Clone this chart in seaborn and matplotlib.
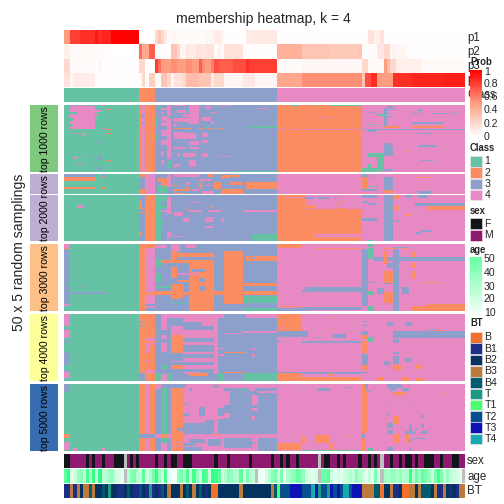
import matplotlib
matplotlib.use('Agg')
import matplotlib.pyplot as plt
from matplotlib.colors import ListedColormap, LinearSegmentedColormap
from matplotlib.patches import Rectangle
import numpy as np
import seaborn as sns

W, H = 504, 504
LEFT, RIGHT = 64, 465

class_colors = ['#66C2A5', '#FC8D62', '#8DA0CB', '#E78AC3']
strip_colors = ['#7FC97F', '#BEAED4', '#FDC086', '#FFFF99', '#386CB0']
sex_colors = {'F': '#111618', 'M': '#8E1A6F', 'N': '#BEBEBE'}
bt_colors = {'B': '#F1702A', 'B1': '#1B2F87', 'B2': '#04335F', 'B3': '#BC7A3D', 'B4': '#005A70',
             'T': '#1B9B85', 'T1': '#4BFF71', 'T2': '#04508F', 'T3': '#0C12B4', 'T4': '#15AAAE'}

# membership probabilities, one value per sample
p1 = [.5, .5, .8, .8, .8, .85, .85, .85, .85, .85, .92, .85, .88, .88, .88] + [1.0] * 9 + [0] * 5 + \
     [.2, .3, .2, .1, .03, .05, .05, .02, .02, .02, .02, .02, .02, .02, .02, .02, .04, .04, .04, .1, .1, .05,
      .01, .01, .01, .01, .01, .01, .01, .1, .1, .1, .12, .12, .12, .12, .12, .12, .12] + \
     [.01] * 29 + [.15, .15, .08, .08, .15] + [.01] * 26
p2 = [.08, .08, .03, .03, .03, .03, .03, .03, .03, .03, .02, .02, .02, .02, .02] + [0] * 9 + \
     [.65, .45, .45, .7, .7] + \
     [.01, .01, .01, .01, .01, .3, .3, .2, .06, .06, .12, .1, .1, .15, .15, .12, .15, .15, .15, .02, .08, .02,
      .15, .15, .15, .15, .15, .15, .02, .01, .01, .01, .01, .01, .01, .01, .01, .01, .01] + \
     [.4] * 8 + [.3] * 9 + [.28] * 9 + [.3] + [.02] * 5 + [.12, .12, .2, .2, .05, .07, .05, .05, .06, .03] + [.01] * 18
p3 = [.2, .2, .02, .02, .02, .02, .02, .02, .02, .02, .02, .05] + [.01] * 12 + [.2, .2, 0, 0, 0] + \
     [.8, .65, .5, .5, .5, .55, .55, .5, .5, .5, .55, .55, .5, .5, .7, .55, .5, .5, .6, .75, .72, .7, .7, .7, .7,
      .75, .75, .75, .75, .85, .8, .8, .8, .8, .8, .8, .8, .8, .8] + \
     [.02] * 8 + [.04] * 19 + [.2, .2, .03, .03, .03, .03, .03, .5, .35, .2, .2] + [.08] * 8 + [.03] * 14
p4 = [.15, .15, .05, .1, .1, .1, .1, .1, .1, .1] + [.01] * 14 + [.02, .2, .02, .25, .25] + \
     [.02, .02, .3, .3, .2, .05, .15, .15, .15, .2, .35, .35, .35, .35, .3, .3, .3, .3, .1, .2, .2, .2,
      .05, .05, .05, .05, .05, .05, .12, .12, .12, .12, .04, .04, .04, .04, .04, .04, .04] + \
     [.45] * 8 + [.55] * 19 + [.3, .75, .75, .85, .85, .5, .5, .5, .5, .5] + [.85] * 6 + [.88] * 10 + [.9] * 7

# sample annotations as (count, value) runs
sex_runs = [(2, 'F'), (5, 'M'), (1, 'F'), (1, 'M'), (1, 'F'), (2, 'M'), (1, 'F'), (3, 'M'), (3, 'F'), (1, 'N'),
            (1, 'M'), (1, 'F'), (1, 'M'), (1, 'F'), (5, 'M'), (1, 'F'), (2, 'M'), (1, 'F'), (1, 'M'), (2, 'F'),
            (2, 'M'), (3, 'F'), (7, 'M'), (1, 'F'), (3, 'M'), (1, 'F'), (6, 'M'), (1, 'F'),
            (6, 'M'), (1, 'F'), (2, 'M'), (1, 'F'), (1, 'M'), (1, 'F'), (2, 'M'), (1, 'F'), (6, 'M'), (1, 'N'),
            (1, 'M'), (2, 'F'), (2, 'M'), (1, 'F'), (1, 'M'), (1, 'F'), (4, 'M'), (1, 'F'), (2, 'M'), (1, 'F'),
            (1, 'M'), (1, 'F'), (1, 'M'), (1, 'N'), (2, 'M'), (1, 'F'), (2, 'M'), (1, 'F'), (1, 'M'), (2, 'F'),
            (1, 'M'), (1, 'F'), (2, 'M'), (3, 'F'), (2, 'M'), (1, 'F'), (3, 'M'), (2, 'F'), (2, 'M')]
age = [40, 48, 15, 20, 30, 32, 22, 45, 25, 48, 20, 50, 22, 25, 28, 30, 20, 18, 15, np.nan,
       25, 32, 35, 25, 20, 42, 20, 25, 35, 48, 30, 20, 45, 15, 12, 12, 32, 35, 25, 45,
       20, 45, 30, 20, 45, 42, 20, 48, 46, 40, 20, 25, 32, 30, 25, 25, 40, 20, 35, 25,
       22, np.nan, 15, 12, 18, 25, 32, 35, 20, 35, 15, 25, 30, 32, 38, 35, 30, 20, 18, 15,
       20, np.nan, 38, 38, 40, 20, 15, 18, 15, 20, 22, 25, 22, 32, 25, 20, 15, 22, 15, 35,
       20, np.nan, 28, 25, 30, 30, 25, 30, 25, 25, 48, 25, 38, 28, 40, 35, 30, 20, 35, 45,
       35, 20, 30, 22, 20, 18, 15, np.nan]
bt_runs = [(2, 'B1'), (1, 'B3'), (1, 'B1'), (1, 'B3'), (1, 'B2'), (2, 'B3'), (1, 'B4'), (1, 'B3'), (2, 'B2'),
           (1, 'B4'), (1, 'B2'), (1, 'T'), (2, 'B2'), (2, 'B1'), (1, 'B2'), (1, 'B4'), (1, 'B2'), (2, 'B1'),
           (1, 'T2'), (1, 'B2'), (1, 'B1'), (1, 'T'), (1, 'B1'), (1, 'B2'), (1, 'B1'), (1, 'B4'), (1, 'B2'),
           (1, 'B3'), (3, 'B2'), (1, 'B3'), (1, 'B2'), (1, 'B4'), (1, 'B2'), (1, 'B3'), (1, 'B2'), (1, 'B4'),
           (1, 'B2'), (1, 'B1'), (1, 'B2'), (2, 'B'), (7, 'B2'), (1, 'B3'), (3, 'B2'),
           (6, 'B2'), (1, 'B3'), (1, 'B4'), (1, 'T1'), (3, 'T2'), (4, 'T3'), (3, 'T2'), (1, 'T4'), (1, 'T3'),
           (1, 'T'), (2, 'T2'), (1, 'T'), (1, 'T3'), (1, 'T2'), (1, 'T3'), (1, 'T2'), (2, 'T4'), (1, 'T2'),
           (3, 'T3'), (4, 'B3'), (2, 'B4'), (1, 'B'), (2, 'B2'), (1, 'B3'), (2, 'B1'), (1, 'B2'), (2, 'B'),
           (2, 'B3'), (1, 'B2'), (1, 'B3'), (3, 'B4'), (1, 'B2'), (1, 'B3'), (2, 'B1'), (1, 'B3'), (1, 'B2'),
           (1, 'B1'), (1, 'B2'), (1, 'B1'), (2, 'B3')]

class_runs = [(24, 1), (5, 2), (39, 3), (60, 4)]

# predicted class per column for every block, runs first, then (row, row_end, col, col_end, class)
block1_base = [(24, 1), (1, 2), (1, 4), (3, 2), (39, 3), (27, 2), (33, 4)]
block1_patch = [(1, 18, 2, 10, 4), (5, 7, 2, 4, 1), (10, 12, 2, 3, 1), (14, 16, 2, 3, 1), (0, 1, 2, 9, 3),
                (3, 4, 10, 12, 3), (4, 5, 10, 12, 4), (7, 8, 10, 11, 4), (6, 7, 10, 11, 4), (0, 1, 12, 13, 4),
                (3, 4, 13, 15, 2), (18, 19, 13, 15, 2), (17, 18, 12, 13, 4), (21, 22, 13, 15, 2), (21, 22, 3, 4, 4),
                (21, 22, 5, 6, 4), (22, 23, 6, 7, 4), (28, 29, 11, 12, 3), (26, 27, 11, 12, 3), (38, 41, 11, 12, 3),
                (41, 42, 13, 15, 2), (46, 49, 11, 12, 3), (44, 45, 4, 6, 4), (39, 40, 3, 4, 4), (38, 39, 6, 7, 4),
                (7, 8, 25, 26, 3), (9, 10, 25, 26, 3), (13, 14, 25, 26, 3), (18, 19, 24, 26, 4), (17, 18, 25, 29, 2),
                (0, 40, 33, 34, 4), (8, 10, 33, 34, 1), (2, 4, 31, 33, 4), (5, 7, 31, 32, 4), (8, 12, 31, 33, 4),
                (1, 3, 30, 31, 1), (9, 16, 29, 30, 1), (22, 26, 29, 30, 1), (13, 16, 31, 33, 4), (19, 23, 31, 33, 4),
                (26, 30, 31, 33, 4), (34, 38, 31, 32, 4), (41, 45, 31, 32, 4),
                (0, 1, 35, 39, 4), (1, 14, 40, 43, 4), (0, 2, 40, 43, 4), (1, 3, 45, 47, 4), (0, 1, 50, 53, 4),
                (4, 6, 36, 39, 4), (7, 9, 38, 42, 4), (10, 13, 35, 40, 4), (5, 6, 47, 49, 4), (9, 12, 44, 47, 4),
                (12, 14, 47, 48, 4), (2, 3, 62, 65, 4), (14, 16, 35, 36, 4),
                (17, 18, 35, 37, 2), (17, 18, 37, 41, 2), (17, 18, 43, 45, 2), (17, 18, 46, 48, 2), (17, 18, 49, 51, 2),
                (16, 17, 57, 58, 1), (16, 17, 60, 68, 1), (16, 17, 45, 46, 1),
                (20, 22, 35, 39, 4), (21, 25, 35, 42, 4), (21, 24, 44, 46, 4), (31, 33, 35, 39, 4), (31, 33, 40, 43, 4),
                (36, 39, 36, 37, 4), (36, 39, 38, 42, 4), (36, 39, 44, 46, 4), (44, 46, 35, 37, 4), (41, 46, 40, 42, 4),
                (27, 30, 40, 43, 4), (38, 39, 48, 49, 4), (38, 39, 50, 53, 4), (26, 28, 44, 46, 4), (42, 47, 33, 34, 1),
                (49, 50, 31, 33, 1), (49, 50, 53, 68, 1),
                (0, 1, 72, 75, 1), (0, 1, 80, 81, 1), (0, 1, 85, 95, 1), (18, 19, 68, 71, 4), (18, 19, 72, 75, 4),
                (18, 19, 76, 80, 4), (18, 19, 81, 84, 4), (18, 19, 85, 95, 4), (9, 10, 81, 85, 4), (9, 10, 86, 87, 4),
                (2, 16, 102, 103, 3), (1, 2, 103, 105, 3), (3, 4, 103, 106, 3), (6, 7, 103, 104, 3), (8, 9, 103, 105, 3),
                (7, 8, 100, 103, 1), (14, 15, 97, 98, 1), (14, 15, 99, 100, 1), (5, 6, 97, 98, 3), (5, 6, 99, 100, 3),
                (16, 17, 102, 107, 2), (16, 17, 111, 121, 2), (18, 19, 95, 128, 3), (13, 14, 111, 121, 3), (3, 5, 113, 114, 3),
                (6, 7, 111, 114, 3), (6, 7, 117, 123, 3), (6, 7, 124, 126, 3), (21, 22, 113, 117, 3), (30, 31, 113, 119, 3),
                (36, 39, 97, 100, 1), (36, 49, 100, 102, 1), (44, 49, 97, 98, 1), (47, 50, 95, 100, 1), (28, 30, 102, 104, 3),
                (30, 38, 102, 105, 3), (34, 35, 109, 111, 2), (19, 20, 97, 100, 3), (41, 42, 114, 118, 3), (48, 49, 102, 105, 3)]

block2_base = [(24, 1), (2, 3), (3, 2), (39, 3), (27, 4), (33, 4)]
block2_patch = [(0, 2, 0, 10, 3), (2, 5, 0, 10, 2), (0, 2, 12, 13, 3), (2, 3, 12, 13, 2), (10, 11, 0, 10, 2),
                (10, 11, 12, 13, 2), (23, 25, 4, 6, 4),
                (0, 2, 24, 26, 2), (0, 15, 26, 29, 4), (11, 15, 24, 26, 2), (20, 26, 24, 25, 2), (25, 26, 24, 26, 2),
                (28, 29, 24, 26, 2), (43, 46, 24, 25, 2),
                (0, 3, 29, 31, 3), (3, 6, 30, 33, 2), (6, 9, 31, 33, 2), (9, 14, 30, 33, 1), (0, 10, 33, 34, 4),
                (17, 30, 33, 34, 4), (43, 48, 33, 34, 4), (15, 50, 29, 31, 1), (15, 20, 31, 33, 1), (23, 25, 31, 33, 1),
                (35, 38, 31, 32, 1), (8, 9, 34, 36, 2),
                (0, 2, 35, 43, 4), (0, 2, 46, 48, 2), (1, 3, 50, 53, 2), (1, 2, 52, 56, 2), (6, 11, 43, 44, 2),
                (6, 11, 48, 50, 2), (6, 8, 53, 57, 2), (6, 11, 58, 68, 2), (11, 15, 50, 57, 2), (11, 13, 35, 40, 2),
                (14, 16, 35, 39, 2), (10, 12, 39, 40, 2), (6, 8, 39, 40, 4), (8, 9, 45, 48, 4), (11, 13, 41, 43, 4),
                (4, 5, 43, 47, 4), (28, 31, 35, 38, 4), (33, 36, 38, 40, 4), (32, 36, 45, 48, 4), (33, 36, 50, 51, 4),
                (27, 28, 31, 33, 4), (27, 28, 40, 44, 4), (27, 28, 46, 48, 4), (27, 28, 48, 50, 4), (27, 28, 57, 68, 4),
                (21, 22, 40, 43, 4), (26, 27, 39, 40, 2), (39, 40, 45, 48, 4), (46, 47, 35, 38, 4), (47, 48, 47, 48, 4),
                (45, 50, 60, 68, 1), (13, 15, 44, 48, 4), (15, 16, 44, 50, 4), (24, 25, 47, 48, 2),
                (16, 50, 68, 77, 2), (17, 18, 70, 77, 4), (26, 50, 77, 95, 2), (17, 19, 77, 80, 3), (17, 19, 81, 85, 3),
                (17, 18, 86, 87, 3), (20, 21, 77, 79, 2), (23, 25, 77, 80, 2), (20, 21, 88, 90, 2), (22, 24, 87, 88, 2),
                (25, 26, 87, 90, 2), (45, 47, 80, 95, 4), (45, 46, 77, 78, 2),
                (0, 2, 95, 97, 3), (2, 11, 95, 97, 2), (1, 2, 98, 99, 3), (2, 14, 102, 105, 3), (12, 14, 102, 105, 2),
                (11, 13, 95, 100, 3), (9, 10, 97, 98, 1), (9, 10, 99, 100, 1), (14, 16, 95, 97, 2), (16, 18, 95, 100, 3),
                (20, 22, 95, 97, 3), (22, 23, 97, 100, 3), (33, 35, 95, 100, 3), (29, 30, 98, 99, 1), (16, 50, 102, 105, 3),
                (22, 30, 102, 104, 3), (16, 19, 105, 107, 2), (24, 27, 105, 107, 2), (24, 27, 116, 128, 2), (22, 24, 112, 128, 3),
                (16, 18, 109, 111, 3), (16, 18, 113, 116, 3), (2, 3, 112, 117, 2), (13, 15, 113, 117, 3), (30, 31, 109, 111, 2),
                (34, 36, 106, 107, 3), (43, 45, 112, 114, 3), (42, 43, 114, 117, 3), (49, 50, 97, 99, 1)]

block3_base = [(2, 3), (22, 1), (2, 2), (3, 4), (39, 3), (60, 4)]
block3_patch = [(0, 3, 0, 2, 4), (3, 4, 0, 2, 2), (29, 30, 0, 2, 1), (36, 37, 2, 13, 3), (36, 37, 12, 14, 3),
                (32, 33, 4, 6, 3), (45, 46, 0, 2, 4), (46, 50, 0, 2, 1),
                (0, 3, 24, 29, 2), (36, 38, 26, 29, 2), (45, 47, 26, 29, 3), (48, 50, 26, 29, 3), (46, 48, 26, 29, 4),
                (5, 45, 51, 57, 2), (13, 50, 40, 48, 2), (25, 28, 43, 45, 3), (31, 36, 43, 45, 3), (19, 21, 41, 45, 3),
                (5, 14, 34, 36, 2), (17, 25, 34, 36, 2), (30, 40, 34, 38, 2), (0, 5, 34, 37, 4), (0, 3, 39, 42, 4),
                (7, 10, 36, 48, 2), (12, 14, 29, 48, 2), (9, 13, 58, 68, 2), (10, 11, 60, 61, 3), (35, 38, 29, 68, 2),
                (29, 31, 57, 68, 2), (39, 44, 57, 68, 1), (46, 50, 57, 68, 1), (11, 17, 29, 31, 1), (22, 28, 29, 31, 1),
                (31, 33, 29, 34, 1), (44, 47, 34, 40, 1), (45, 47, 29, 40, 3), (45, 48, 48, 68, 3), (40, 41, 34, 37, 2),
                (20, 21, 31, 34, 4), (20, 30, 36, 40, 3), (16, 30, 31, 34, 3), (32, 36, 38, 40, 3), (41, 44, 36, 40, 3),
                (1, 3, 29, 33, 4), (22, 23, 36, 43, 4), (27, 28, 36, 40, 2), (14, 16, 48, 51, 3),
                (0, 3, 68, 76, 2), (3, 4, 80, 95, 2), (32, 36, 77, 95, 3), (34, 36, 76, 78, 3), (46, 47, 68, 76, 2),
                (47, 49, 76, 95, 3), (48, 50, 68, 76, 3), (49, 50, 76, 79, 3),
                (4, 46, 95, 97, 3), (46, 50, 97, 99, 1), (0, 2, 97, 99, 1), (3, 11, 97, 99, 1), (28, 29, 97, 100, 3),
                (10, 13, 99, 128, 3), (4, 50, 105, 107, 3), (5, 15, 102, 103, 2), (20, 29, 102, 105, 2), (36, 44, 102, 105, 2),
                (6, 10, 111, 112, 2), (14, 18, 111, 112, 2), (20, 26, 111, 112, 2), (46, 50, 111, 113, 2), (45, 50, 116, 128, 2),
                (46, 50, 112, 116, 2), (28, 29, 114, 120, 2), (33, 37, 100, 102, 3), (35, 38, 97, 99, 1), (3, 4, 102, 106, 2),
                (3, 4, 108, 110, 2), (14, 18, 103, 105, 3), (29, 30, 102, 105, 3), (32, 37, 108, 110, 3), (2, 3, 105, 110, 3)]

block4_base = [(2, 3), (22, 1), (5, 2), (39, 3), (60, 4)]
block4_patch = [(0, 9, 0, 2, 4), (9, 11, 0, 2, 1), (12, 18, 0, 2, 4), (18, 20, 0, 2, 1), (22, 28, 0, 2, 1),
                (38, 42, 0, 2, 1), (43, 48, 0, 2, 4), (48, 50, 0, 2, 1),
                (5, 6, 24, 26, 3), (8, 9, 24, 26, 3), (44, 50, 24, 26, 3), (18, 20, 26, 29, 4), (22, 23, 26, 29, 4),
                (22, 26, 26, 27, 4), (26, 29, 26, 27, 4), (42, 44, 26, 29, 4), (34, 36, 26, 27, 4),
                (0, 3, 31, 51, 4), (0, 3, 58, 68, 4), (3, 12, 31, 33, 4), (12, 13, 29, 31, 1), (16, 19, 31, 33, 4),
                (22, 28, 31, 33, 4), (39, 41, 31, 33, 1), (5, 6, 34, 38, 3), (9, 16, 34, 38, 4), (16, 29, 34, 38, 2),
                (38, 41, 34, 38, 2), (12, 18, 38, 48, 4), (3, 6, 38, 48, 4), (6, 9, 44, 48, 4), (21, 23, 38, 48, 4),
                (28, 30, 38, 48, 4), (33, 35, 38, 48, 4), (38, 41, 38, 48, 4), (43, 45, 38, 44, 4), (47, 50, 38, 48, 3),
                (0, 45, 48, 49, 4), (28, 29, 51, 58, 2), (43, 44, 51, 58, 2), (44, 50, 57, 68, 1), (44, 50, 49, 51, 1),
                (44, 50, 29, 31, 1), (44, 50, 33, 34, 1), (45, 50, 31, 33, 4), (38, 40, 31, 33, 1), (13, 14, 57, 68, 4),
                (12, 13, 57, 58, 1), (44, 46, 40, 46, 2), (44, 45, 38, 40, 4), (25, 27, 60, 61, 4), (30, 32, 60, 61, 4),
                (14, 15, 51, 57, 4), (30, 31, 49, 51, 4), (35, 36, 34, 48, 4), (25, 26, 48, 51, 4),
                (0, 13, 68, 76, 2), (10, 11, 69, 70, 4), (13, 17, 68, 78, 3), (20, 21, 68, 70, 3), (20, 22, 76, 95, 3),
                (43, 45, 68, 95, 3), (44, 50, 68, 76, 2), (47, 50, 76, 95, 2), (2, 3, 85, 86, 2), (11, 12, 85, 86, 2),
                (15, 18, 86, 90, 3), (17, 18, 80, 82, 3), (44, 46, 85, 86, 2),
                (5, 6, 95, 97, 3), (8, 9, 95, 97, 3), (13, 16, 95, 97, 3), (16, 19, 95, 97, 2), (20, 29, 95, 97, 2),
                (30, 38, 95, 97, 3), (38, 42, 95, 97, 2), (43, 44, 95, 97, 3), (17, 21, 97, 99, 1), (13, 18, 105, 128, 3),
                (6, 9, 103, 105, 3), (19, 22, 105, 107, 3), (28, 30, 105, 107, 3), (31, 37, 105, 107, 3), (35, 38, 102, 104, 3),
                (38, 42, 105, 108, 2), (38, 41, 112, 114, 2), (47, 50, 100, 102, 2), (47, 50, 108, 110, 2), (48, 50, 112, 115, 2),
                (11, 12, 116, 119, 3), (12, 13, 118, 121, 2), (6, 9, 109, 111, 3), (33, 36, 109, 111, 3)]

block5_base = [(24, 1), (2, 2), (1, 4), (2, 2), (2, 3), (2, 1), (1, 3), (4, 2), (57, 4), (1, 2), (1, 2), (31, 4)]
block5_patch = [(0, 6, 0, 2, 3), (37, 40, 0, 2, 2), (43, 49, 0, 2, 4), (48, 50, 3, 4, 4), (48, 50, 12, 13, 4),
                (37, 40, 24, 29, 3), (40, 44, 26, 27, 4), (0, 4, 29, 31, 4), (0, 3, 31, 33, 3), (0, 3, 34, 38, 3),
                (3, 4, 34, 37, 2), (37, 40, 29, 31, 4), (37, 40, 31, 33, 2), (37, 40, 33, 34, 4), (40, 44, 31, 33, 1),
                (44, 50, 31, 33, 4), (44, 50, 29, 31, 3), (46, 47, 34, 38, 4), (43, 44, 34, 38, 4), (33, 35, 36, 38, 3),
                (3, 37, 51, 68, 3), (8, 16, 60, 62, 4), (5, 7, 62, 68, 4), (3, 5, 59, 61, 4), (18, 20, 60, 62, 4),
                (24, 27, 60, 61, 4), (3, 5, 57, 58, 1), (22, 25, 51, 53, 4), (10, 11, 52, 53, 4), (5, 16, 51, 53, 4),
                (18, 37, 49, 51, 3), (24, 26, 49, 51, 4), (17, 24, 43, 45, 3), (29, 37, 38, 48, 3), (27, 37, 45, 48, 3),
                (22, 24, 38, 40, 3), (0, 3, 38, 39, 3), (1, 3, 48, 49, 3), (3, 5, 40, 41, 3), (14, 15, 38, 40, 3),
                (37, 40, 38, 68, 4), (40, 50, 51, 60, 3), (40, 50, 62, 68, 3), (41, 46, 46, 50, 3), (41, 44, 40, 45, 3),
                (44, 46, 38, 42, 3), (47, 50, 38, 44, 3), (48, 50, 48, 60, 4), (43, 45, 60, 61, 3), (37, 38, 48, 50, 2),
                (44, 49, 68, 76, 2), (39, 44, 76, 77, 2), (38, 44, 80, 85, 2), (38, 39, 90, 92, 2), (44, 49, 85, 86, 2),
                (3, 5, 81, 85, 3), (2, 3, 76, 77, 3), (2, 3, 90, 92, 3), (49, 50, 76, 95, 1), (49, 50, 68, 70, 4),
                (0, 3, 95, 96, 2), (0, 4, 96, 97, 3), (5, 6, 96, 98, 3), (37, 40, 95, 96, 3), (36, 50, 96, 97, 4),
                (44, 50, 95, 96, 2), (48, 50, 97, 99, 1), (0, 3, 103, 108, 3), (3, 5, 104, 106, 3), (3, 5, 108, 110, 3),
                (6, 8, 105, 109, 2), (24, 30, 105, 107, 2), (37, 44, 105, 107, 2), (37, 44, 109, 110, 2), (29, 33, 103, 105, 3),
                (34, 37, 103, 105, 3), (30, 37, 110, 111, 3), (35, 37, 109, 112, 3), (35, 37, 114, 116, 3), (30, 33, 114, 115, 3),
                (33, 34, 112, 113, 3), (7, 8, 121, 122, 2), (47, 50, 103, 105, 3), (48, 50, 110, 111, 3), (14, 15, 103, 104, 3),
                (22, 24, 103, 104, 3), (23, 25, 114, 115, 3), (15, 16, 110, 111, 3), (41, 43, 110, 111, 3), (40, 41, 111, 116, 3)]

blocks = [(block1_base, block1_patch, 105, 172, None, 'top 1000 rows'),
          (block2_base, block2_patch, 174, 241, 15, 'top 2000 rows'),
          (block3_base, block3_patch, 244, 311, None, 'top 3000 rows'),
          (block4_base, block4_patch, 314, 381, None, 'top 4000 rows'),
          (block5_base, block5_patch, 384, 451, None, 'top 5000 rows')]


def expand(runs):
    out = []
    for n, v in runs:
        out += [v] * n
    return out


def box(x0, y0, x1, y1):
    return [x0 / W, 1 - y1 / H, (x1 - x0) / W, (y1 - y0) / H]


def heat(matrix, x0, y0, x1, y1, **kw):
    ax = fig.add_axes(box(x0, y0, x1, y1))
    sns.heatmap(matrix, ax=ax, cbar=False, xticklabels=False, yticklabels=False, **kw)
    return ax


def pixel_axes(zorder):
    a = fig.add_axes([0, 0, 1, 1], zorder=zorder)
    a.set_xlim(0, W)
    a.set_ylim(H, 0)
    a.axis('off')
    a.patch.set_alpha(0)
    return a


sns.set_theme(style='white')
plt.rcParams['font.family'] = ['Liberation Sans', 'DejaVu Sans']
fig = plt.figure(figsize=(7, 7), dpi=72)

prob_cmap = LinearSegmentedColormap.from_list('prob', ['#FFFFFF', '#FF9E81', '#FF0000'])
class_cmap = ListedColormap(class_colors)
age_cmap = LinearSegmentedColormap.from_list('age', ['#FFFFFF', '#2BFF7F'])

heat(np.array([p1, p2, p3, p4]), LEFT, 30, RIGHT, 87, cmap=prob_cmap, vmin=0, vmax=1)
heat(np.array([expand(class_runs)]), LEFT, 88, RIGHT, 102, cmap=class_cmap, vmin=.5, vmax=4.5)

for base, patch, y0, y1, gap, name in blocks:
    m = np.tile(np.array(expand(base)), (50, 1))
    for r0, r1, c0, c1, v in patch:
        m[r0:r1, c0:c1] = v
    ax = heat(m, LEFT, y0, RIGHT, y1, cmap=class_cmap, vmin=.5, vmax=4.5)
    if gap is not None:
        ax.axhline(gap, color='white', lw=1)

sex_names = list(sex_colors)
sex_idx = [sex_names.index(s) for s in expand(sex_runs)]
heat(np.array([sex_idx]), LEFT, 454, RIGHT, 468, cmap=ListedColormap(list(sex_colors.values())), vmin=-.5, vmax=2.5)
ax = heat(np.array([age], dtype=float), LEFT, 469, RIGHT, 483, cmap=age_cmap, vmin=10, vmax=50)
ax.set_facecolor('#BEBEBE')
bt_names = list(bt_colors)
bt_idx = [bt_names.index(b) for b in expand(bt_runs)]
heat(np.array([bt_idx]), LEFT, 484, RIGHT, 498, cmap=ListedColormap(list(bt_colors.values())), vmin=-.5, vmax=9.5)

# row names go under the legend, it is drawn over them in the original too
names = pixel_axes(1)
for name, y in zip(['p1', 'p2', 'p3', 'p4', 'Class'], [37.5, 51.5, 66, 80, 94.5]):
    names.text(467, y, name, ha='left', va='center', fontsize=11.5)
for name, y in zip(['sex', 'age', 'BT'], [461, 477, 491.5]):
    names.text(467, y, name, ha='left', va='center', fontsize=11.5)

# colour bars of the legend
grad = np.linspace(1, 0, 60).reshape(-1, 1)
ax = heat(grad, 470, 70, 482, 137, cmap=prob_cmap, vmin=0, vmax=1)
ax.set_zorder(5)
ax = heat(grad * 40 + 10, 470, 257, 482, 318, cmap=age_cmap, vmin=10, vmax=65)
ax.set_zorder(5)

# overlay in pixel coordinates for the strips and the text
ov = pixel_axes(10)


def swatch(y0, y1, color):
    ov.add_patch(Rectangle((470, y0), 12, y1 - y0, facecolor=color, edgecolor='#F2E4EE', lw=.6))


for (base, patch, y0, y1, gap, name), color in zip(blocks, strip_colors):
    rect = Rectangle((30, y0), 28, y1 - y0, facecolor=color, edgecolor='none')
    ov.add_patch(rect)
    t = ov.text(45.5, (y0 + y1) / 2 + .5, name, rotation=90, ha='center', va='center', fontsize=10.5, color='black')
    t.set_clip_path(rect)
    if gap is not None:
        ov.plot([30, 58], [y0 + gap * 67 / 50] * 2, color='white', lw=1)

ov.text(263, 19, 'membership heatmap, k = 4', ha='center', va='center', fontsize=14)
ov.text(19, 252, '50 x 5 random samplings', rotation=90, ha='center', va='center', fontsize=14)

ov.text(470, 62, 'Prob', ha='left', va='center', fontsize=9.5, fontweight='bold')
for lab, y in zip(['1', '0.8', '0.6', '0.4', '0.2', '0'], [72, 84, 97, 110, 124, 137]):
    ov.text(484, y, lab, ha='left', va='center', fontsize=10.5)

ov.text(470, 148, 'Class', ha='left', va='center', fontsize=9.5, fontweight='bold')
for i, (lab, col) in enumerate(zip(['1', '2', '3', '4'], class_colors)):
    swatch(156 + i * 11.3, 166.6 + i * 11.3, col)
    ov.text(484.5, 161.5 + i * 11.3, lab, ha='left', va='center', fontsize=10.5)

ov.text(470, 211, 'sex', ha='left', va='center', fontsize=9.5, fontweight='bold')
for i, lab in enumerate(['F', 'M']):
    swatch(218 + i * 11.5, 229 + i * 11.5, sex_colors[lab])
    ov.text(484.5, 224 + i * 11.5, lab, ha='left', va='center', fontsize=10.5)

ov.text(470, 250, 'age', ha='left', va='center', fontsize=9.5, fontweight='bold')
for lab, y in zip(['50', '40', '30', '20', '10'], [259, 273, 287, 299, 313]):
    ov.text(484, y, lab, ha='left', va='center', fontsize=10.5)

ov.text(470, 323, 'BT', ha='left', va='center', fontsize=9.5, fontweight='bold')
for i, lab in enumerate(bt_names):
    swatch(332 + i * 11.3, 342.6 + i * 11.3, bt_colors[lab])
    ov.text(484.5, 337.5 + i * 11.3, lab, ha='left', va='center', fontsize=10.5)

fig.savefig('out.png', dpi=72)
